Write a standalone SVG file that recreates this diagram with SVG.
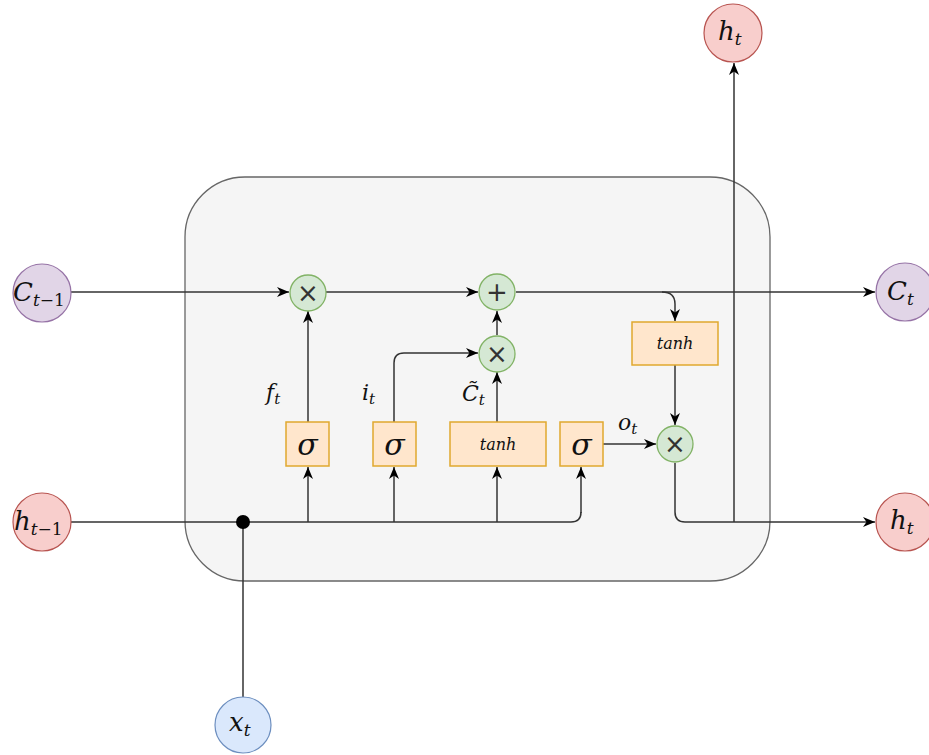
<svg xmlns="http://www.w3.org/2000/svg" width="929" height="755" viewBox="0 0 929 755">
  <defs>
    <marker id="arrow" viewBox="0 0 12 10" refX="12" refY="5" markerWidth="12" markerHeight="10" markerUnits="userSpaceOnUse" orient="auto">
      <path d="M0,0 L12,5 L0,10 L3.5,5 Z" fill="#000"/>
    </marker>
    <style>
      .cell { fill: #f5f5f5; stroke: #666666; stroke-width: 1.3; }
      .op { fill: #d5e8d4; stroke: #82b366; stroke-width: 1.3; }
      .gate { fill: #ffe6cc; stroke: #e0a82e; stroke-width: 1.5; }
      .red { fill: #f8cecc; stroke: #b85450; stroke-width: 1.2; }
      .purple { fill: #e1d5e7; stroke: #9673a6; stroke-width: 1.2; }
      .blue { fill: #dae8fc; stroke: #6c8ebf; stroke-width: 1.2; }
      .wire { fill: none; stroke: #333333; stroke-width: 1.5; }
      .arr { marker-end: url(#arrow); }
      .math { font-family: "DejaVu Serif", "Liberation Serif", serif; font-style: italic; fill: #111; }
      .sym { font-family: "DejaVu Sans", sans-serif; fill: #333; text-anchor: middle; }
    </style>
  </defs>

  <!-- LSTM cell body -->
  <rect id="cell" class="cell" x="185" y="177" width="585" height="404" rx="60" ry="60"/>

  <!-- connectors -->
  <g id="connectors">
    <!-- cell state line -->
    <path class="wire arr" d="M71,292 L289,292"/>
    <path class="wire arr" d="M326,292 L478,292"/>
    <path class="wire arr" d="M516,292 L875,292"/>
    <path class="wire arr" d="M662,292 Q675,292 675,304 L675,321"/>
    <!-- hidden state input line -->
    <path class="wire" d="M71,522 L571,522 Q581,522 581,512"/>
    <path class="wire arr" d="M581,513 L581,467"/>
    <path class="wire arr" d="M308,522 L308,467"/>
    <path class="wire arr" d="M394,522 L394,467"/>
    <path class="wire arr" d="M497,522 L497,467"/>
    <!-- x_t input -->
    <path class="wire" d="M243,697 L243,522"/>
    <!-- gate outputs -->
    <path class="wire arr" d="M308,422 L308,311"/>
    <path class="wire arr" d="M394,422 L394,363 Q394,353 404,353 L478,353"/>
    <path class="wire arr" d="M497,422 L497,372"/>
    <path class="wire arr" d="M497,335 L497,311"/>
    <path class="wire arr" d="M603,444 L656,444"/>
    <path class="wire arr" d="M675,365 L675,425"/>
    <!-- output path -->
    <path class="wire arr" d="M675,463 L675,512 Q675,522 685,522 L875,522"/>
    <path class="wire arr" d="M734,522 L734,63"/>
    <circle cx="243" cy="522" r="7" fill="#000"/>
  </g>

  <!-- external inputs / outputs -->
  <g id="c_prev">
    <circle class="purple" cx="42" cy="293" r="29"/>
    <text class="math" x="13" y="301" font-size="26">C<tspan font-size="17" dy="5">t</tspan><tspan font-style="normal" font-size="17">−1</tspan></text>
  </g>
  <g id="h_prev">
    <circle class="red" cx="42" cy="522" r="29"/>
    <text class="math" x="14" y="530" font-size="26">h<tspan font-size="17" dy="5">t</tspan><tspan font-style="normal" font-size="17">−1</tspan></text>
  </g>
  <g id="x_t">
    <circle class="blue" cx="243" cy="725" r="28"/>
    <text class="math" x="229" y="731" font-size="26">x<tspan font-size="17" dy="5">t</tspan></text>
  </g>
  <g id="h_out_top">
    <circle class="red" cx="733" cy="33" r="29"/>
    <text class="math" x="718" y="40" font-size="26">h<tspan font-size="17" dy="5">t</tspan></text>
  </g>
  <g id="c_out">
    <circle class="purple" cx="905" cy="292" r="29"/>
    <text class="math" x="887" y="300" font-size="26">C<tspan font-size="17" dy="5">t</tspan></text>
  </g>
  <g id="h_out">
    <circle class="red" cx="905" cy="522" r="29"/>
    <text class="math" x="890" y="529" font-size="26">h<tspan font-size="17" dy="5">t</tspan></text>
  </g>

  <!-- pointwise operations -->
  <g id="mul_forget">
    <circle class="op" cx="308" cy="293" r="18"/>
    <text class="sym" x="308" y="302" font-size="26">×</text>
  </g>
  <g id="add_state">
    <circle class="op" cx="497" cy="292" r="18"/>
    <text class="sym" x="497" y="301" font-size="26">+</text>
  </g>
  <g id="mul_input">
    <circle class="op" cx="497" cy="354" r="18"/>
    <text class="sym" x="497" y="363" font-size="26">×</text>
  </g>
  <g id="mul_output">
    <circle class="op" cx="675" cy="444" r="18"/>
    <text class="sym" x="675" y="453" font-size="26">×</text>
  </g>

  <!-- gate layers -->
  <g id="sigma_forget">
    <rect class="gate" x="286" y="422" width="43" height="44"/>
    <text class="math" x="307.5" y="455" font-size="30" text-anchor="middle">σ</text>
  </g>
  <g id="sigma_input">
    <rect class="gate" x="373" y="422" width="43" height="44"/>
    <text class="math" x="394.5" y="455" font-size="30" text-anchor="middle">σ</text>
  </g>
  <g id="tanh_candidate">
    <rect class="gate" x="450" y="422" width="96" height="44"/>
    <text class="math" x="498" y="450" font-size="16" text-anchor="middle">tanh</text>
  </g>
  <g id="sigma_output">
    <rect class="gate" x="560" y="422" width="43" height="44"/>
    <text class="math" x="581.5" y="455" font-size="30" text-anchor="middle">σ</text>
  </g>
  <g id="tanh_state">
    <rect class="gate" x="632" y="322" width="86" height="43"/>
    <text class="math" x="675" y="349" font-size="16" text-anchor="middle">tanh</text>
  </g>

  <!-- gate output labels -->
  <g id="labels">
    <text class="math" x="266" y="400" font-size="22">f<tspan font-size="15" dy="4">t</tspan></text>
    <text class="math" x="362" y="400" font-size="22">i<tspan font-size="15" dy="4">t</tspan></text>
    <text class="math" x="462" y="401" font-size="22">C&#x303;<tspan font-size="15" dy="4">t</tspan></text>
    <text class="math" x="618" y="430" font-size="22">o<tspan font-size="15" dy="4">t</tspan></text>
  </g>
</svg>
